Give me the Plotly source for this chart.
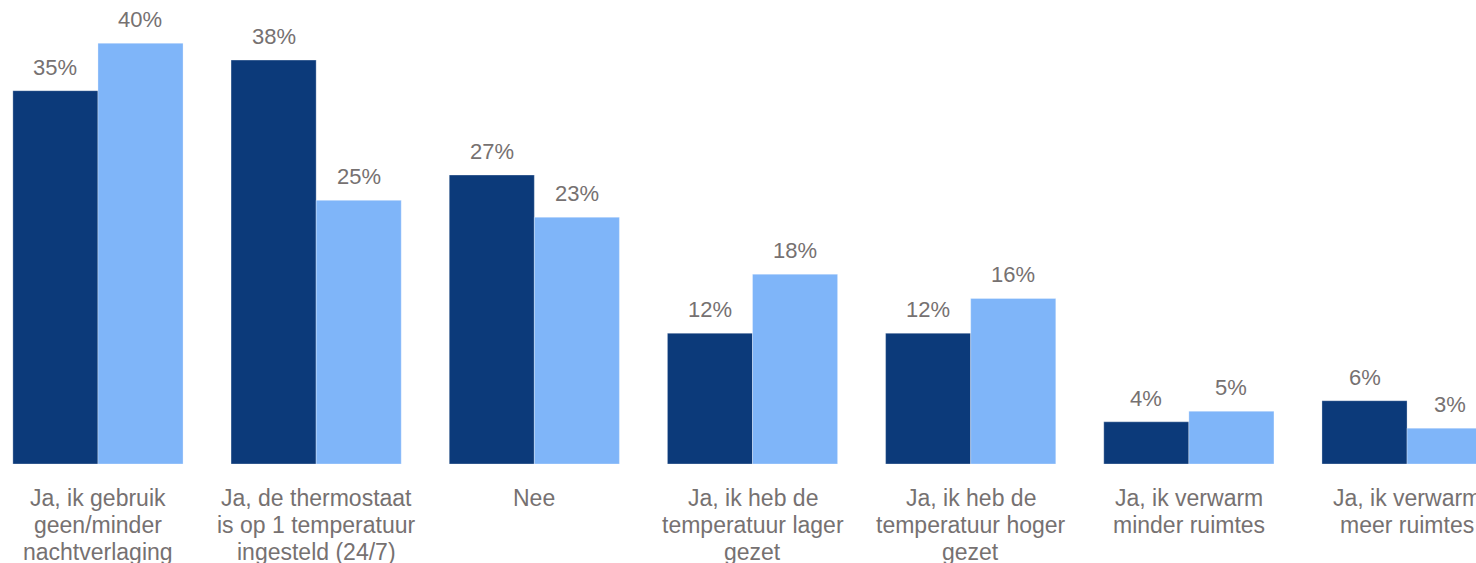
import plotly.graph_objects as go

categories = [
    "Ja, ik gebruik<br>geen/minder<br>nachtverlaging",
    "Ja, de thermostaat<br>is op 1 temperatuur<br>ingesteld (24/7)",
    "Nee",
    "Ja, ik heb de<br>temperatuur lager<br>gezet",
    "Ja, ik heb de<br>temperatuur hoger<br>gezet",
    "Ja, ik verwarm<br>minder ruimtes",
    "Ja, ik verwarm<br>meer ruimtes",
]
series_a = [35.4, 38.3, 27.4, 12.4, 12.4, 4.0, 6.0]
series_b = [39.9, 25.0, 23.4, 18.0, 15.7, 5.0, 3.4]

DARK = "#0C3A7A"
LIGHT = "#7FB5F9"
TXT = "#767171"
FONT = "Liberation Sans, Arial, sans-serif"

fig = go.Figure()
fig.add_trace(go.Bar(x=categories, y=series_a, marker=dict(color=DARK, line=dict(width=0.5, color="rgba(255,255,255,0.6)")), name="A"))
fig.add_trace(go.Bar(x=categories, y=series_b, marker=dict(color=LIGHT, line=dict(width=0.5, color="rgba(255,255,255,0.6)")), name="B"))

annotations = []
for cat, va, vb in zip(categories, series_a, series_b):
    for v, dx in ((va, -42.5), (vb, 42.5)):
        annotations.append(dict(
            x=cat, y=v, xref="x", yref="y", xshift=dx, yshift=9,
            text=f"{round(v)}%", showarrow=False, yanchor="bottom",
            font=dict(size=22, color=TXT, family=FONT),
        ))
    # category label, one annotation per line for tight line spacing
    for i, line in enumerate(cat.split("<br>")):
        annotations.append(dict(
            x=cat, y=0, xref="x", yref="y", yshift=-34 - 27 * i,
            text=line, showarrow=False, yanchor="middle", xanchor="center",
            font=dict(size=23, color=TXT, family=FONT),
        ))

fig.update_layout(
    width=1476, height=563,
    margin=dict(l=0, r=0, t=0, b=99, pad=0),
    paper_bgcolor="white", plot_bgcolor="white",
    barmode="group", bargap=0.22, bargroupgap=0,
    showlegend=False,
    annotations=annotations,
    font=dict(family=FONT, color=TXT),
    xaxis=dict(range=[-0.449, 6.316], showgrid=False, showline=False, zeroline=False,
               showticklabels=False, ticks="", automargin=False),
    yaxis=dict(range=[0, 44.0], visible=False, showgrid=False, zeroline=False),
)

fig.write_html("out.html", config={"displayModeBar": False},
               post_script="document.body.style.margin='0';document.body.style.overflow='hidden';")
